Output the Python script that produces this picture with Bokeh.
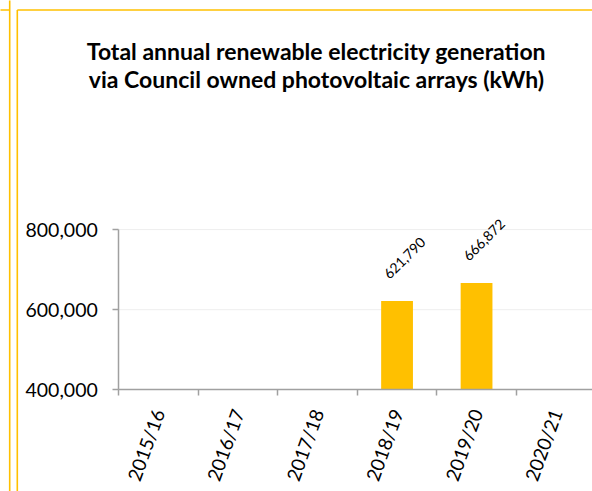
import math
from bokeh.plotting import figure
from bokeh.models import LinearAxis, FixedTicker, NumeralTickFormatter, Range1d
from bokeh.core.properties import value
from bokeh.embed import file_html
from bokeh.resources import INLINE

# ---- data ----
categories = ["2015/16", "2016/17", "2017/18", "2018/19", "2019/20", "2020/21"]
generation_kwh = [None, None, None, 621790, 666872, None]
y_ticks = [400000, 600000, 800000]
title_lines = ["Total annual renewable electricity generation",
               "via Council owned photovoltaic arrays (kWh)"]

# ---- layout (figure pixels, origin top-left) ----
W, H = 592, 491
AX_X = 118.3          # pixel of first category boundary (y axis line)
CAT_PX = 79.5         # pixels per category
AX_Y = 389.3          # pixel of the x axis (lowest y tick)
PX_PER_UNIT = 80.1 / 200000.0

def data_x(px):
    return (px - AX_X) / CAT_PX

def data_y(py):
    return y_ticks[0] + (AX_Y - py) / PX_PER_UNIT

FONT = "Lato"
GOLD = "#FFC000"
AXIS_GREY = "#A0A0A0"

p = figure(width=W, height=H,
           x_range=Range1d(data_x(0), data_x(W)),
           y_range=Range1d(data_y(H), data_y(0)),
           output_backend="svg", toolbar_location=None,
           x_axis_location=None, y_axis_location=None,
           title=None, min_border=0)
p.min_border_left = p.min_border_right = p.min_border_top = p.min_border_bottom = 0
p.outline_line_color = None
p.background_fill_color = "white"
p.border_fill_color = "white"
p.grid.visible = False

centers = [i + 0.5 for i in range(len(categories))]
boundaries = list(range(len(categories) + 1))

# light gridlines at the y ticks above the axis minimum
grid_vals = [t for t in y_ticks if t > y_ticks[0]]
p.segment(x0=[boundaries[0]] * len(grid_vals), x1=[boundaries[-1]] * len(grid_vals),
          y0=grid_vals, y1=grid_vals, line_color="#EEEEEE", line_width=1)

# bars
bx = [c for c, v in zip(centers, generation_kwh) if v is not None]
bv = [v for v in generation_kwh if v is not None]
p.vbar(x=bx, top=bv, bottom=y_ticks[0], width=0.4, fill_color=GOLD, line_color=None)

# data labels
p.text(x=bx, y=bv, text=[f"{v:,}" for v in bv], angle=math.pi / 4,
       text_align="center", text_baseline="middle", x_offset=7.5, y_offset=-43,
       text_font=value(FONT), text_font_size="14px", text_color="black")

# title
p.text(x=[data_x(316)] * 2, y=[data_y(50), data_y(78.3)], text=title_lines,
       text_align="center", text_baseline="alphabetic",
       text_font=value(FONT), text_font_style="bold", text_font_size="23px",
       text_color="black")

# yellow frame lines
p.multi_line(
    xs=[[data_x(9.2), data_x(9.2)], [data_x(16.8), data_x(16.8)],
        [data_x(16.8), data_x(W + 5)], [data_x(-5), data_x(9.2)]],
    ys=[[data_y(-5), data_y(H + 5)], [data_y(9.5), data_y(H + 5)],
        [data_y(9.5), data_y(9.5)], [data_y(9.5), data_y(9.5)]],
    line_color=GOLD, line_width=1.6)

# axes
yaxis = LinearAxis(fixed_location=boundaries[0],
                   ticker=FixedTicker(ticks=y_ticks),
                   formatter=NumeralTickFormatter(format="0,0"),
                   bounds=(y_ticks[0], y_ticks[-1]),
                   axis_line_color=AXIS_GREY, axis_line_width=1.5,
                   major_tick_line_color=AXIS_GREY, major_tick_line_width=1.5,
                   major_tick_out=6, major_tick_in=0,
                   minor_tick_out=0, minor_tick_in=0,
                   major_label_standoff=15,
                   major_label_text_font=FONT, major_label_text_font_size="19.5px",
                   major_label_text_color="black")
p.add_layout(yaxis, "left")

xaxis = LinearAxis(fixed_location=y_ticks[0],
                   ticker=FixedTicker(ticks=centers, minor_ticks=boundaries),
                   major_label_overrides={c: n for c, n in zip(centers, categories)},
                   bounds=(boundaries[0], boundaries[-1]),
                   axis_line_color=AXIS_GREY, axis_line_width=1.5,
                   major_tick_out=0, major_tick_in=0,
                   minor_tick_line_color=AXIS_GREY, minor_tick_line_width=1.5,
                   minor_tick_out=6, minor_tick_in=0,
                   major_label_orientation=math.radians(70),
                   major_label_standoff=14,
                   major_label_text_font=FONT, major_label_text_font_size="19px",
                   major_label_text_color="black")
p.add_layout(xaxis, "below")

open("out.html", "w").write(file_html(p, INLINE))
